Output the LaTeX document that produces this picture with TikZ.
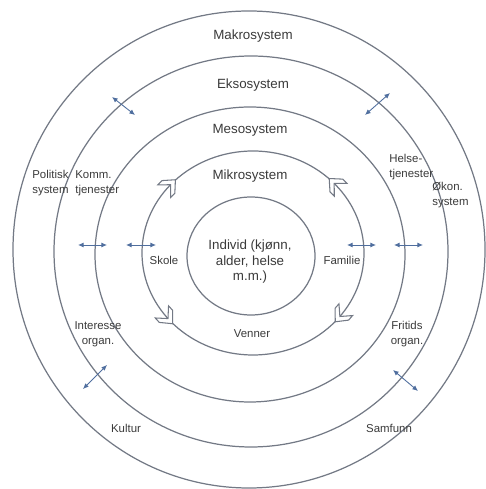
\documentclass[tikz,border=0pt]{standalone}
\usepackage{fontspec}
\setmainfont{Liberation Sans}
\usetikzlibrary{arrows.meta}
\usetikzlibrary{positioning}

\definecolor{ring}{HTML}{737985}
\definecolor{ink}{HTML}{3A3A3A}
\definecolor{linkblue}{HTML}{4F6E9E}

\tikzset{
    ringline/.style={draw=ring, line width=0.7pt},
    lbl/.style={text=ink, font=\fontsize{7.6}{8.8}\selectfont, inner sep=0pt},
    small/.style={lbl, font=\fontsize{6.5}{8.4}\selectfont},
    twoway/.style={draw=linkblue, line width=0.5pt,
        {Latex[length=3.2pt,width=2.8pt]}-{Latex[length=3.2pt,width=2.8pt]}},
    chev/.pic={\filldraw[draw=ring, fill=white, line width=0.6pt]
        (7,0) -- (-3,9) -- (-9,9) -- (0,0) -- (-9,-9) -- (-3,-9) -- cycle;}
}

\begin{document}
\begin{tikzpicture}[x=0.02cm, y=0.02cm]
        \useasboundingbox (0,0) rectangle (485,489);
        % centres of the rings
        \coordinate (O1) at (251,233);
        \coordinate (O2) at (253,236);
        \coordinate (O3) at (250,234.5);
        \coordinate (O4) at (251,237.5);
        \coordinate (O5) at (249,239.5);
        \draw[ringline] (O5) ellipse [x radius=236, y radius=238.5];
        \draw[ringline] (O4) ellipse [x radius=197, y radius=195.5];
        \draw[ringline] (O3) ellipse [x radius=155, y radius=147.5];
        \draw[ringline] (O2) ellipse [x radius=111, y radius=102];
        \draw[ringline] (O1) ellipse [x radius=64, y radius=59];
        % open arrows on the micro ring
        \foreach \t/\s in {138/-1, 43/1, 220/1, -38.5/-1} {
            \pgfmathsetmacro\a{atan2((\s)*102*cos(\t), -(\s)*111*sin(\t))}
            \path (O2) ++(\t:111 and 102) pic[rotate=\a] {chev};
        }
        % two-way links
        \foreach \i/\xa/\ya/\xb/\yb in {1/78/244/107/244, 2/126/244/156/244,
                3/347/244/376/244, 4/394/244/423/244,
                5/112/392/135/374, 6/390/396/365/374,
                7/107/124/83/100, 8/393/119/418/98} {
            \coordinate (P\i) at (\xa,\ya);
            \coordinate (Q\i) at (\xb,\yb);
            \draw[twoway] (P\i) -- (Q\i);
        }
        % labels
        \node[lbl] (mak) at (253,453) {Makrosystem};
        \node[lbl] (eks) at (253,404) {Eksosystem};
        \node[lbl] (mes) at (250,359) {Mesosystem};
        \node[lbl] (mik) at (250,313) {Mikrosystem};
        \node[lbl, align=center] (ind) at (250,227) {Individ (kjønn,\\alder, helse\\m.m.)};
        \node[small] (sko) at (164,229) {Skole};
        \node[small] (fam) at (342,229) {Familie};
        \node[small] (ven) at (252,155) {Venner};
        \node[small, align=left, anchor=west] (pol) at (32,306) {Politisk\\system};
        \node[small, align=left, anchor=west] (kom) at (75,306) {Komm.\\tjenester};
        \node[small, align=left, anchor=west] (hel) at (389,322) {Helse-\\tjenester};
        \node[small, align=left, anchor=west] (oko) at (432,294) {Økon.\\system};
        \node[small, align=center] (int) at (98,155) {Interesse\\organ.};
        \node[small, align=center] (fri) at (407,155) {Fritids\\organ.};
        \node[small] (kul) at (126,61) {Kultur};
        \node[small] (sam) at (389,61) {Samfunn};
    \end{tikzpicture}
\end{document}
